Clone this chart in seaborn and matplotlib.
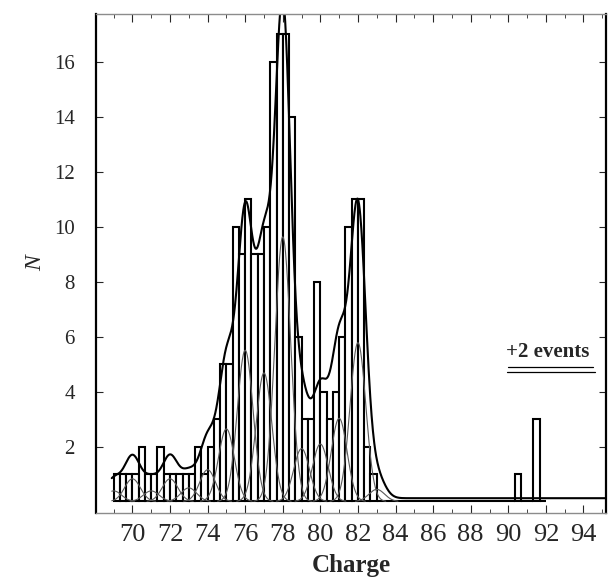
import numpy as np
import pandas as pd
import matplotlib
matplotlib.use("Agg")
import matplotlib.pyplot as plt
import seaborn as sns

# histogram of measured charges, bins of 1/3 charge unit
bin_centers = [69.17, 69.5, 69.83, 70.17, 70.5, 70.83, 71.17, 71.5, 71.83,
               72.17, 72.5, 72.83, 73.17, 73.5, 73.83, 74.17, 74.5, 74.83,
               75.17, 75.5, 75.83, 76.17, 76.5, 76.83, 77.17, 77.5, 77.83,
               78.17, 78.5, 78.83, 79.17, 79.5, 79.83, 80.17, 80.5, 80.83,
               81.17, 81.5, 81.83, 82.17, 82.5, 82.83, 90.5, 91.5]
counts = [1, 1, 1, 1, 2, 1, 1, 2, 1,
          1, 1, 1, 1, 2, 1, 2, 3, 5,
          5, 10, 9, 11, 9, 9, 10, 16, 17,
          17, 14, 6, 3, 3, 8, 4, 3, 4,
          6, 10, 11, 11, 2, 1, 1, 3]

# gaussian fit components, one per integer charge
fit_charges = [69, 70, 71, 72, 73, 74, 75, 76, 77, 78, 79, 80, 81, 82, 83]
fit_heights = [0.7, 1.5, 0.7, 1.5, 0.9, 2.1, 4.8, 10.0, 8.5, 17.5, 3.5, 3.8, 5.5, 10.5, 0.8]
fit_sigma = 0.42

sns.set_style("ticks")
plt.rcParams["font.family"] = ["Liberation Serif", "DejaVu Serif"]

fig = plt.figure(figsize=(6.14, 5.83), dpi=100)
ax = fig.add_axes([0.156, 0.120, 0.831, 0.856])

df = pd.DataFrame({"charge": bin_centers, "n": counts})
sns.histplot(data=df, x="charge", weights="n", binwidth=1 / 3, binrange=(69.0, 92.0),
             ax=ax, color="white", edgecolor="black", linewidth=1.5, alpha=1.0)

grid = np.linspace(68.9, 95.2, 1500)
total = np.zeros_like(grid)
for z, h in zip(fit_charges, fit_heights):
    comp = h * np.exp(-0.5 * ((grid - z) / fit_sigma) ** 2)
    total += comp
    mask = comp > 0.02
    sns.lineplot(x=grid[mask], y=comp[mask] * 0.55, ax=ax, color="0.35", linewidth=0.8)
sns.lineplot(x=grid, y=total + 0.12, ax=ax, color="black", linewidth=1.5)

ax.set_xlim(68.05, 95.2)
ax.set_ylim(-0.42, 17.73)
ax.set_xticks(np.arange(70, 95, 2))
ax.set_xticks(np.arange(69, 96, 1), minor=True)
ax.set_yticks(np.arange(2, 17, 2))
ax.tick_params(axis="both", which="both", direction="in", top=True, right=True)
ax.tick_params(axis="x", which="major", labelsize=19, length=6, pad=8)
ax.tick_params(axis="x", which="minor", length=3)
ax.tick_params(axis="y", which="major", labelsize=15, length=5, pad=15)
ax.tick_params(axis="y", which="minor", length=0)

ax.set_xlabel("Charge", fontsize=18, fontweight="bold", labelpad=6)
ax.set_ylabel("N", fontsize=17, fontstyle="italic", labelpad=6)

for side in ["left", "right"]:
    ax.spines[side].set_linewidth(1.6)
    ax.spines[side].set_color("black")
for side in ["top", "bottom"]:
    ax.spines[side].set_linewidth(1.0)
    ax.spines[side].set_color("0.55")

ax.text(92.1, 5.45, "+2 events", fontsize=15, fontweight="bold",
        ha="center", va="center")
ax.plot([90.0, 94.5], [4.9, 4.9], color="black", linewidth=0.9)
ax.plot([89.95, 94.6], [4.72, 4.72], color="black", linewidth=0.9)

fig.savefig("out.png", dpi=100)
